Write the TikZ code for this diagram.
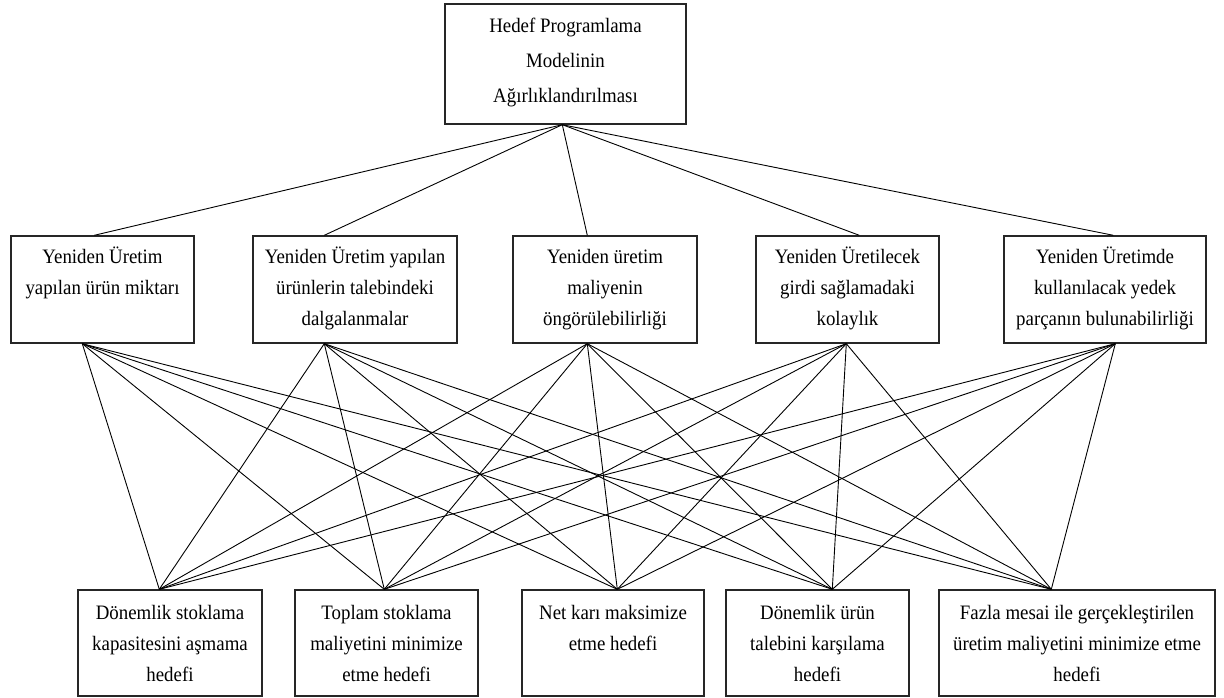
\documentclass[tikz,border=0pt]{standalone}
\usepackage{fontspec}
\setmainfont{Liberation Serif}[FakeStretch=0.92]
\usetikzlibrary{calc}
\newcommand{\mystrut}{\rule{0pt}{20pt}}
\begin{document}
\begin{tikzpicture}[x=1pt,y=-1pt,
  box/.style={draw=black!85, line width=1.4pt, inner sep=0pt, rectangle},
  txt/.style={anchor=north, inner sep=0pt, align=center, font=\fontsize{20.5}{31}\selectfont},
  link/.style={draw=black, line width=0.9pt}]
\fill[white] (0,0) rectangle (1224,697);
\useasboundingbox (0,0) rectangle (1224,697);
% top
\node[box, minimum width=241pt, minimum height=120pt] (T) at (565.5,64) {};
% middle row
\node[box, minimum width=183pt, minimum height=107pt] (M1) at (102.5,289.5) {};
\node[box, minimum width=204pt, minimum height=107pt] (M2) at (355,289.5) {};
\node[box, minimum width=184pt, minimum height=107pt] (M3) at (605,289.5) {};
\node[box, minimum width=183pt, minimum height=107pt] (M4) at (847.5,289.5) {};
\node[box, minimum width=202pt, minimum height=107pt] (M5) at (1105,289.5) {};
% bottom row
\node[box, minimum width=184pt, minimum height=106pt] (B1) at (170,643) {};
\node[box, minimum width=183pt, minimum height=106pt] (B2) at (386.5,643) {};
\node[box, minimum width=182pt, minimum height=106pt] (B3) at (613,643) {};
\node[box, minimum width=183pt, minimum height=106pt] (B4) at (817.5,643) {};
\node[box, minimum width=276pt, minimum height=106pt] (B5) at (1077,643) {};
% texts
\node[txt, font=\fontsize{20.5}{35}\selectfont] (Tt) at ($(T.north)+(0,9)$) {\mystrut Hedef Programlama\\Modelinin\\Ağırlıklandırılması};
\node[txt] (M1t) at ($(M1.north)+(0,8)$) {\mystrut Yeniden Üretim\\yapılan ürün miktarı};
\node[txt] (M2t) at ($(M2.north)+(0,8)$) {\mystrut Yeniden Üretim yapılan\\ürünlerin talebindeki\\dalgalanmalar};
\node[txt] (M3t) at ($(M3.north)+(0,8)$) {\mystrut Yeniden üretim\\maliyenin\\öngörülebilirliği};
\node[txt] (M4t) at ($(M4.north)+(0,8)$) {\mystrut Yeniden Üretilecek\\girdi sağlamadaki\\kolaylık};
\node[txt] (M5t) at ($(M5.north)+(0,8)$) {\mystrut Yeniden Üretimde\\kullanılacak yedek\\parçanın bulunabilirliği};
\node[txt] (B1t) at ($(B1.north)+(0,10)$) {\mystrut Dönemlik stoklama\\kapasitesini aşmama\\hedefi};
\node[txt] (B2t) at ($(B2.north)+(0,10)$) {\mystrut Toplam stoklama\\maliyetini minimize\\etme hedefi};
\node[txt] (B3t) at ($(B3.north)+(0,10)$) {\mystrut Net karı maksimize\\etme hedefi};
\node[txt] (B4t) at ($(B4.north)+(0,10)$) {\mystrut Dönemlik ürün\\talebini karşılama\\hedefi};
\node[txt] (B5t) at ($(B5.north)+(0,10)$) {\mystrut Fazla mesai ile gerçekleştirilen\\üretim maliyetini minimize etme\\hedefi};
% connector end points on the box edges
\coordinate (T-s) at ($(T.south west)+(118,0)$);
\coordinate (M1-n) at ($(M1.north west)+(84,0)$);
\coordinate (M2-n) at ($(M2.north west)+(72,0)$);
\coordinate (M3-n) at ($(M3.north west)+(75,0)$);
\coordinate (M4-n) at ($(M4.north west)+(104,0)$);
\coordinate (M5-n) at ($(M5.north west)+(110,0)$);
\coordinate (M1-s) at ($(M1.south west)+(72,0)$);
\coordinate (M2-s) at ($(M2.south west)+(72,0)$);
\coordinate (M3-s) at ($(M3.south west)+(75,0)$);
\coordinate (M4-s) at ($(M4.south west)+(91,0)$);
\coordinate (M5-s) at ($(M5.south west)+(112,0)$);
\coordinate (B1-n) at ($(B1.north west)+(82,0)$);
\coordinate (B2-n) at ($(B2.north west)+(90,0)$);
\coordinate (B3-n) at ($(B3.north west)+(96,0)$);
\coordinate (B4-n) at ($(B4.north west)+(107,0)$);
\coordinate (B5-n) at ($(B5.north west)+(113,0)$);
% connectors
\foreach \i in {1,...,5} \draw[link] (T-s) -- (M\i-n);
\foreach \i in {1,...,5} {\foreach \j in {1,...,5} {\draw[link] (M\i-s) -- (B\j-n);}}
\end{tikzpicture}
\end{document}
